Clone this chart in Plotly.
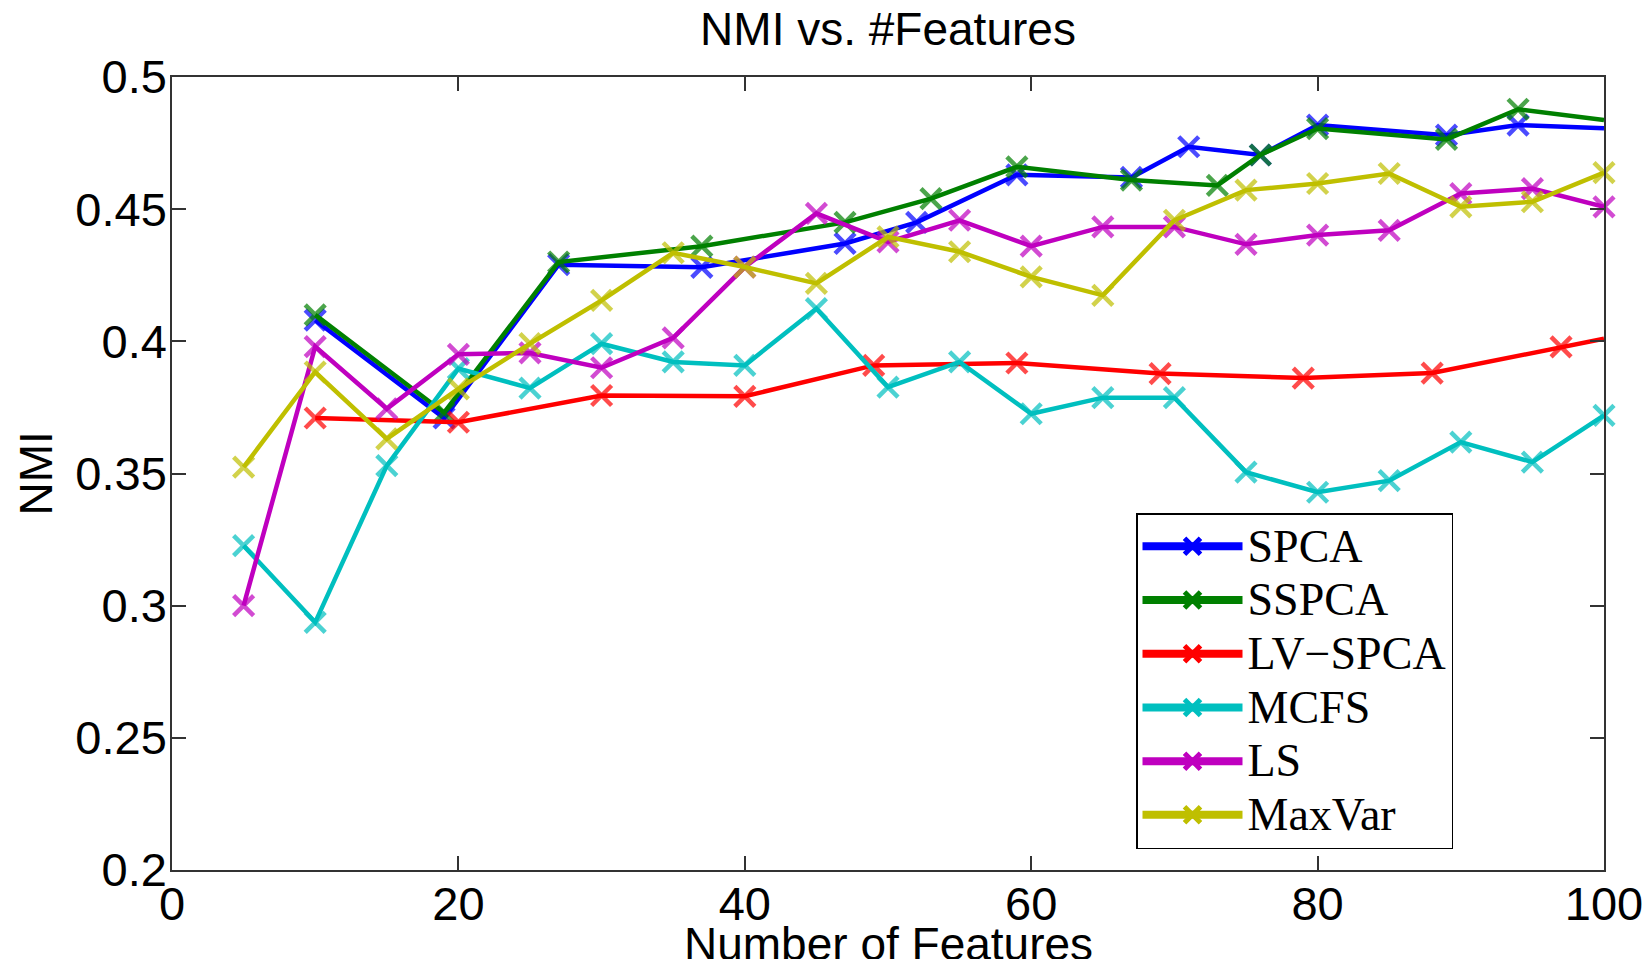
import plotly.graph_objects as go

# ---- data ----
spca_x = [10, 19, 27, 37, 47, 52, 59, 67, 71, 76, 80, 89, 94, 100]
spca_y = [0.408, 0.371, 0.429, 0.428, 0.437, 0.445, 0.463, 0.462, 0.4736, 0.4705, 0.4818, 0.478, 0.4818, 0.4806]

sspca_x = [10, 19, 27, 37, 47, 53, 59, 67, 73, 76, 80, 89, 94, 100]
sspca_y = [0.410, 0.373, 0.430, 0.436, 0.445, 0.454, 0.466, 0.461, 0.459, 0.4705, 0.4805, 0.4764, 0.4878, 0.4837]

lvspca_x = [10, 20, 30, 40, 49, 59, 69, 79, 88, 97, 100]
lvspca_y = [0.371, 0.3694, 0.3795, 0.3792, 0.3909, 0.3918, 0.3878, 0.3861, 0.388, 0.3979, 0.401]

feat_x = [5, 10, 15, 20, 25, 30, 35, 40, 45, 50, 55, 60, 65, 70, 75, 80, 85, 90, 95, 100]
mcfs_y = [0.3227, 0.2937, 0.353, 0.3897, 0.3823, 0.3991, 0.3922, 0.3909, 0.4124, 0.3827,
          0.3922, 0.3726, 0.3787, 0.3787, 0.3505, 0.3429, 0.3473, 0.3619, 0.3543, 0.372]
ls_y = [0.300, 0.398, 0.3745, 0.3951, 0.3956, 0.390, 0.4013, 0.4281, 0.4484, 0.4376,
        0.4458, 0.436, 0.4433, 0.4433, 0.4367, 0.4402, 0.442, 0.4559, 0.4578, 0.4509]
maxvar_y = [0.3524, 0.3884, 0.3631, 0.382, 0.3991, 0.4155, 0.4335, 0.4281, 0.4219, 0.4395,
            0.4339, 0.4244, 0.4174, 0.4458, 0.4572, 0.4597, 0.4635, 0.4509, 0.4528, 0.4638]

y_ticks = [0.2, 0.25, 0.3, 0.35, 0.4, 0.45, 0.5]
y_tick_labels = ["0.2", "0.25", "0.3", "0.35", "0.4", "0.45", "0.5"]
x_ticks = [0, 20, 40, 60, 80, 100]
x_tick_labels = ["0", "20", "40", "60", "80", "100"]

series = [
    ("SPCA", spca_x, spca_y, "#0000FF", True),
    ("SSPCA", sspca_x, sspca_y, "#008000", True),
    ("LV\u2212SPCA", lvspca_x, lvspca_y, "#FF0000", True),
    ("MCFS", feat_x, mcfs_y, "#00BFBF", False),
    ("LS", feat_x, ls_y, "#BF00BF", False),
    ("MaxVar", feat_x, maxvar_y, "#BFBF00", False),
]

SANS = "Liberation Sans, Arial, sans-serif"
SERIF = "Liberation Serif, Times New Roman, serif"

fig = go.Figure()
MS = 20
for name, xs, ys, col, cut_end in series:
    sizes = [MS] * len(xs)
    if cut_end:
        sizes[-1] = 0  # line continues past the axis limit; no marker at the edge
    fig.add_trace(go.Scatter(
        x=xs, y=ys, name=name, mode="lines+markers", showlegend=False,
        legendgroup=name,
        line=dict(color=col, width=4.5),
        marker=dict(symbol="x-thin", size=sizes, color=col,
                    line=dict(color=col, width=4.5)),
        cliponaxis=False,
    ))

# legend entries (thicker sample lines, as in the reference legend)
for name, xs, ys, col, cut_end in series:
    fig.add_trace(go.Scatter(
        x=[None], y=[None], name='<span style="font-size:46px">' + name + "</span>",
        mode="lines+markers", legendgroup=name,
        line=dict(color=col, width=8),
        marker=dict(symbol="x-thin", size=16, color=col, line=dict(color=col, width=5)),
    ))

axis_common = dict(
    showline=True, linecolor="#333333", linewidth=1.5, mirror="ticks",
    ticks="inside", ticklen=14, tickwidth=1.5, tickcolor="#333333",
    showgrid=False, zeroline=False, automargin=False,
    tickfont=dict(family=SANS, size=47, color="black"),
)

fig.update_xaxes(range=[0, 100], tickvals=x_ticks, ticktext=x_tick_labels,
                 ticklabelstandoff=-8, **axis_common)
fig.update_yaxes(range=[0.2, 0.5], tickvals=y_ticks, ticktext=y_tick_labels,
                 ticklabelstandoff=-6, **axis_common)

# page body has an 8px margin: figure occupies 8..1644 x 8..959
W, H = 1636, 951
L, T, R, B = 164, 69, 40, 89
plot_w = W - L - R
plot_h = H - T - B

fig.add_annotation(text="Number of Features", xref="paper", yref="paper",
                   x=0.5, y=-(944 - 870) / plot_h, xanchor="center", yanchor="middle",
                   showarrow=False, font=dict(family=SANS, size=46, color="black"))
fig.add_annotation(text="NMI", xref="paper", yref="paper",
                   x=-(172 - 35) / plot_w, y=0.5, xanchor="center", yanchor="middle",
                   textangle=-90, showarrow=False,
                   font=dict(family=SANS, size=46, color="black"))

fig.update_layout(
    width=W, height=H, autosize=False,
    margin=dict(l=L, r=R, t=T, b=B, autoexpand=False),
    paper_bgcolor="white", plot_bgcolor="white",
    title=dict(text="NMI vs. #Features", x=0.5, xref="paper", xanchor="center",
               y=1 - 21 / H, yanchor="middle", yref="container",
               font=dict(family=SANS, size=46, color="black")),
    legend=dict(x=(1136 - 172) / 1432, y=(870 - 513) / 793, xanchor="left", yanchor="top",
                bgcolor="white", bordercolor="black", borderwidth=1.5,
                font=dict(family=SERIF, size=39, color="black"),
                itemwidth=100, tracegroupgap=0, groupclick="toggleitem"),
    showlegend=True,
)

fig.write_html("out.html")
